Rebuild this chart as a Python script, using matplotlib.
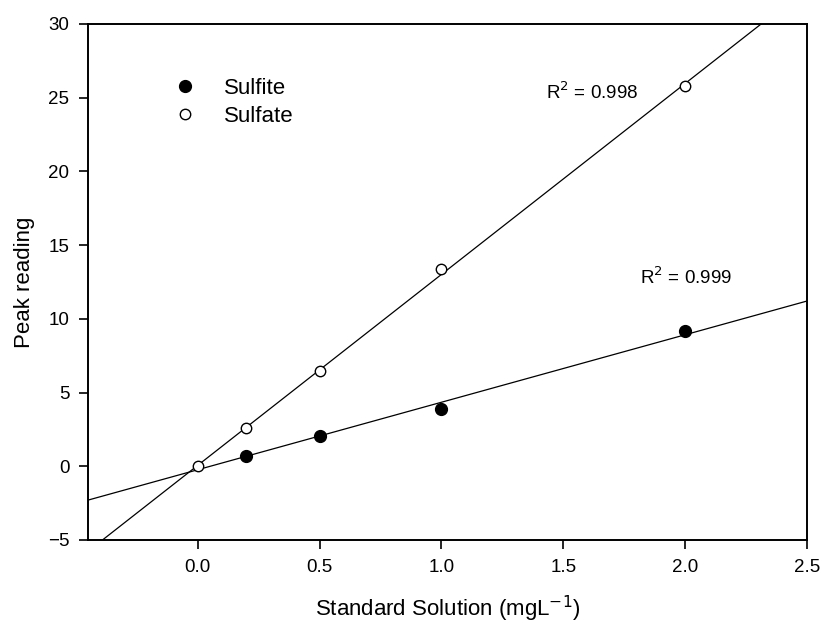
import numpy as np
import matplotlib
matplotlib.use("Agg")
import matplotlib.pyplot as plt

plt.rcParams['font.family'] = ['Liberation Sans', 'DejaVu Sans']

# standard concentrations (mg/L) and peak readings
conc = [0.0, 0.2, 0.5, 1.0, 2.0]
sulfite = [0.0, 0.70, 2.03, 3.87, 9.16]
sulfate = [0.0, 2.58, 6.44, 13.4, 25.8]
r2_sulfite = "0.999"
r2_sulfate = "0.998"

fig = plt.figure(figsize=(8.21, 6.26), dpi=100)
ax = fig.add_axes([0.1072, 0.1374, 0.8758, 0.8243])

# least-squares lines drawn across the whole x range
xx = np.array([-0.45, 2.5])
for yv in (sulfite, sulfate):
    k, b = np.polyfit(conc, yv, 1)
    ax.plot(xx, k * xx + b, color='black', lw=0.9, zorder=1)

ax.plot(conc[1:], sulfite[1:], 'o', ms=8.5, mfc='black', mec='black', ls='none', label='Sulfite', zorder=3)
ax.plot(conc, sulfate, 'o', ms=7.5, mfc='white', mec='black', mew=1, ls='none', label='Sulfate', zorder=3)

ax.text(1.43, 25.4, r'R$^2$ = ' + r2_sulfate, fontsize=13.5, va='center')
ax.text(1.815, 12.8, r'R$^2$ = ' + r2_sulfite, fontsize=13.5, va='center')

ax.set_xlim(-0.45, 2.5)
ax.set_ylim(-5, 30)
ax.set_xticks([0.0, 0.5, 1.0, 1.5, 2.0, 2.5])
ax.set_xticklabels(['0.0', '0.5', '1.0', '1.5', '2.0', '2.5'])
ax.set_yticks(range(-5, 31, 5))
ax.tick_params(direction='out', length=6.5, width=1.2, labelsize=13.5, pad=7)
for s in ax.spines.values():
    s.set_linewidth(1.4)

ax.set_xlabel('Standard Solution (mgL$^{-1}$)', fontsize=16, labelpad=13)
ax.set_ylabel('Peak reading', fontsize=16, labelpad=9)

ax.legend(loc='upper left', bbox_to_anchor=(0.104, 0.895), frameon=False, fontsize=16,
          handletextpad=0.75, labelspacing=0.3, borderpad=0, borderaxespad=0)

fig.savefig('out.png', dpi=100)
